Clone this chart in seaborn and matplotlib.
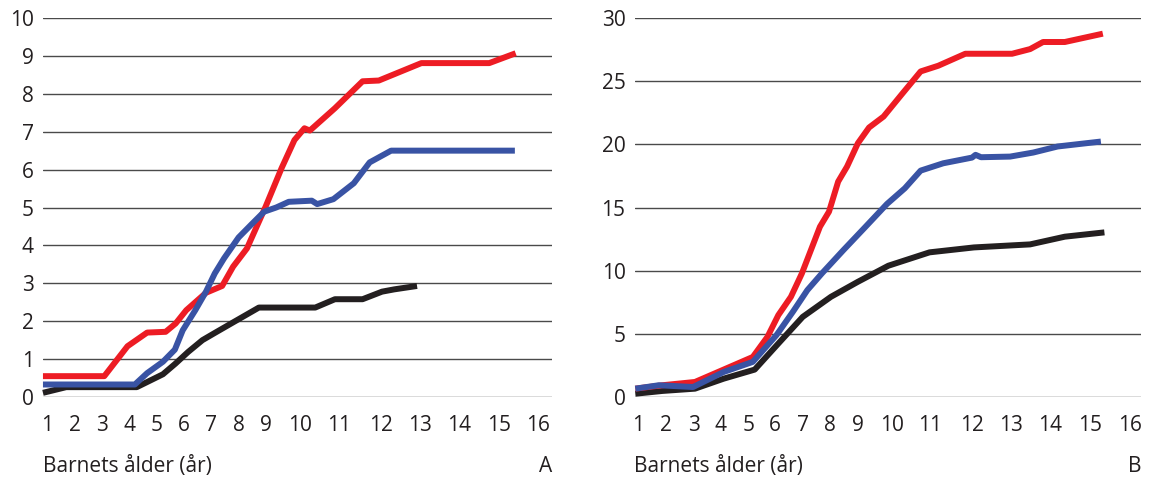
import matplotlib

matplotlib.use("Agg")
import matplotlib.pyplot as plt
import numpy as np
import pandas as pd
import seaborn as sns

# tick labels 1..16 are not evenly spaced in the original, so the x axis
# uses a piecewise-linear scale built from the label positions (px from axis left)
AGE_TICKS = list(range(1, 17))
TICK_PX = [3.6, 31.6, 59.4, 86.4, 113.7, 140.8, 168.2, 195.6, 223.4,
           257.2, 295.8, 337.5, 376.8, 416.0, 455.8, 495.0]

# panel A
a_red_x = [0.87, 3.07, 3.93, 4.65, 5.33, 5.7, 6.09, 6.81, 7.4, 7.8, 8.3, 8.97, 9.45,
           9.83, 10.11, 10.25, 10.9, 11.57, 11.96, 13.04, 14.76, 15.43]
a_red_y = [0.55, 0.55, 1.34, 1.70, 1.72, 1.94, 2.29, 2.75, 2.93, 3.44, 3.92, 5.02, 6.04,
           6.78, 7.09, 7.03, 7.62, 8.33, 8.35, 8.81, 8.81, 9.07]
a_blue_x = [0.87, 4.2, 4.65, 5.23, 5.67, 5.96, 6.42, 6.81, 7.13, 7.47, 8.0, 8.47, 8.92,
            9.29, 9.66, 10.3, 10.44, 10.86, 11.36, 11.74, 12.27, 15.41]
a_blue_y = [0.33, 0.33, 0.63, 0.93, 1.25, 1.76, 2.29, 2.78, 3.26, 3.66, 4.21, 4.56, 4.89,
            5.0, 5.15, 5.18, 5.09, 5.22, 5.64, 6.19, 6.50, 6.50]
a_black_x = [0.87, 1.7, 4.27, 5.23, 5.69, 6.16, 6.68, 7.13, 7.73, 8.73, 10.39, 10.9,
             11.57, 12.04, 12.35, 12.93]
a_black_y = [0.11, 0.26, 0.26, 0.60, 0.88, 1.19, 1.50, 1.69, 1.94, 2.36, 2.36, 2.58,
             2.58, 2.78, 2.84, 2.93]

# panel B
b_red_x = [0.9, 1.87, 3.04, 4.1, 5.17, 5.71, 6.11, 6.57, 6.97, 7.3, 7.63, 7.96, 8.29,
           8.61, 9.0, 9.33, 9.76, 10.25, 10.75, 11.19, 11.84, 13.02, 13.48, 13.81,
           14.36, 15.32]
b_red_y = [0.66, 0.93, 1.19, 2.17, 3.17, 4.76, 6.48, 7.93, 9.78, 11.63, 13.48, 14.67,
           17.05, 18.24, 20.09, 21.33, 22.2, 23.92, 25.77, 26.22, 27.17, 27.17, 27.54,
           28.1, 28.1, 28.76]
b_blue_x = [0.9, 1.74, 2.97, 4.1, 5.17, 6.04, 6.64, 7.17, 7.7, 8.48, 9.21, 9.86, 10.34,
            10.75, 11.31, 12.0, 12.09, 12.23, 12.97, 13.56, 14.18, 15.27]
b_blue_y = [0.66, 0.93, 0.79, 1.98, 2.78, 4.89, 6.74, 8.46, 9.78, 11.63, 13.43, 15.28,
            16.52, 17.92, 18.5, 18.95, 19.17, 18.98, 19.03, 19.35, 19.83, 20.22]
b_black_x = [0.9, 1.87, 3.04, 4.1, 5.24, 6.11, 7.0, 8.03, 9.0, 9.9, 10.98, 12.05,
             13.48, 14.36, 15.36]
b_black_y = [0.26, 0.48, 0.66, 1.45, 2.17, 4.23, 6.34, 7.93, 9.12, 10.39, 11.45, 11.84,
             12.08, 12.69, 13.03]

X_LABEL = "Barnets ålder (år)"
COLORS = {"black": "#231f20", "red": "#ed1c24", "blue": "#3953a4"}

W, H = 1157, 480


def long_frame(series: dict) -> pd.DataFrame:
    parts = [pd.DataFrame({"age": x, "value": y, "series": name}) for name, (x, y) in series.items()]
    return pd.concat(parts, ignore_index=True)


anchor_age = [0] + AGE_TICKS + [17]
anchor_px = [TICK_PX[0] - 28.0] + TICK_PX + [TICK_PX[-1] + 39.0]


def fwd(a):
    return np.interp(a, anchor_age, anchor_px)


def inv(p):
    return np.interp(p, anchor_px, anchor_age)


def draw_panel(ax, df, ymax, ystep, width_px, letter):
    sns.lineplot(data=df, x="age", y="value", hue="series", hue_order=["black", "red", "blue"],
                 palette=COLORS, estimator=None, sort=False, linewidth=4.3, legend=False,
                 ax=ax, solid_capstyle="butt", clip_on=False)
    ax.set_xscale("function", functions=(fwd, inv))
    ax.set_xlim(inv(0), inv(width_px))
    ax.set_ylim(0, ymax)
    ax.set_xticks(AGE_TICKS)
    ax.set_xticklabels([str(t) for t in AGE_TICKS])
    ax.set_yticks(np.arange(0, ymax + 1, ystep))
    ax.minorticks_off()
    ax.set_xlabel("")
    ax.set_ylabel("")
    ax.grid(axis="y", color="#4a4a4a", linewidth=1.0)
    ax.grid(axis="x", visible=False)
    ax.set_axisbelow(True)
    for s in ax.spines.values():
        s.set_visible(False)
    ax.tick_params(axis="x", length=0, pad=13, labelsize=15, colors="#231f20")
    ax.tick_params(axis="y", length=0, pad=6.5, labelsize=15, colors="#231f20")
    ax.text(0, -0.198, X_LABEL, transform=ax.transAxes, ha="left", va="baseline",
            fontsize=15, color="#231f20")
    ax.text(1, -0.198, letter, transform=ax.transAxes, ha="right", va="baseline",
            fontsize=15, color="#231f20")


def main() -> None:
    sns.set_theme(style="white")
    plt.rcParams["font.family"] = ["Open Sans", "DejaVu Sans"]

    df_a = long_frame({"black": (a_black_x, a_black_y), "red": (a_red_x, a_red_y),
                       "blue": (a_blue_x, a_blue_y)})
    df_b = long_frame({"black": (b_black_x, b_black_y), "red": (b_red_x, b_red_y),
                       "blue": (b_blue_x, b_blue_y)})

    fig = plt.figure(figsize=(W / 100, H / 100), dpi=100)
    ax_a = fig.add_axes([43 / W, 83 / H, 509 / W, 379 / H])
    ax_b = fig.add_axes([634.5 / W, 83 / H, 506.5 / W, 379 / H])

    draw_panel(ax_a, df_a, 10, 1, 509, "A")
    draw_panel(ax_b, df_b, 30, 5, 506.5, "B")

    fig.savefig("out.png", dpi=100)
    plt.close(fig)


if __name__ == "__main__":
    main()
